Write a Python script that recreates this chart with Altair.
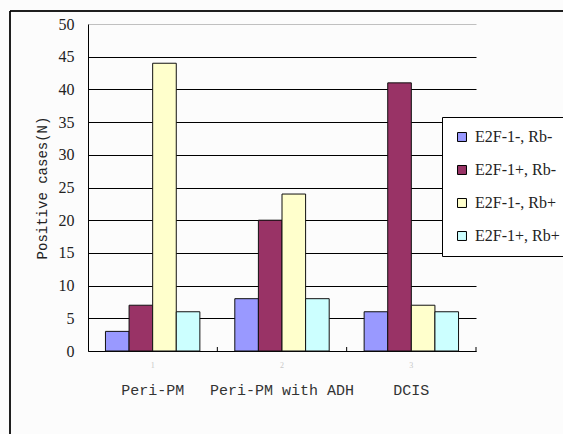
import altair as alt
import pandas as pd

# Groups along the x axis and the four E2F-1 / Rb expression patterns
categories = ["Peri-PM", "Peri-PM with ADH", "DCIS"]
tick_labels = ["1", "2", "3"]
series = ["E2F-1-, Rb-", "E2F-1+, Rb-", "E2F-1-, Rb+", "E2F-1+, Rb+"]
colors = ["#9999FF", "#993366", "#FFFFCC", "#CCFFFF"]

# Positive cases per group, one list per pattern
e2f_neg_rb_neg = [3, 8, 6]
e2f_pos_rb_neg = [7, 20, 41]
e2f_neg_rb_pos = [44, 24, 7]
e2f_pos_rb_pos = [6, 8, 6]

values = [e2f_neg_rb_neg, e2f_pos_rb_neg, e2f_neg_rb_pos, e2f_pos_rb_pos]
rows = []
for s, vals in zip(series, values):
    for c, v in zip(categories, vals):
        rows.append({"group": c, "pattern": s, "cases": v})
df = pd.DataFrame(rows)
groups = pd.DataFrame({"group": categories})

W, H = 388, 327
MONO = "Liberation Mono"
SERIF = "Liberation Serif"

label_map = "{" + ", ".join(f"'{c}': '{t}'" for c, t in zip(categories, tick_labels)) + "}"
x_scale = alt.Scale(domain=categories, paddingInner=0, paddingOuter=0)

bars = alt.Chart(df).mark_bar(stroke="#111111", strokeWidth=1).encode(
    x=alt.X(
        "group:N",
        scale=x_scale,
        sort=categories,
        axis=alt.Axis(
            title=None,
            labelAngle=0,
            labelExpr=f"{label_map}[datum.value]",
            labelColor="#c8c8c8",
            labelFont=SERIF,
            labelFontSize=8,
            labelPadding=10,
            ticks=False,
            domainColor="black",
            domainWidth=1,
            grid=False,
        ),
    ),
    xOffset=alt.XOffset(
        "pattern:N",
        sort=series,
        scale=alt.Scale(domain=series, paddingInner=0, paddingOuter=0.74),
    ),
    y=alt.Y(
        "cases:Q",
        scale=alt.Scale(domain=[0, 50], nice=False),
        axis=alt.Axis(
            title="Positive cases(N)",
            titleFont=MONO,
            titleFontSize=14,
            titleFontWeight="normal",
            titleColor="#222222",
            titlePadding=9,
            values=list(range(0, 51, 5)),
            labelFont=SERIF,
            labelFontSize=16,
            labelColor="#222222",
            labelPadding=14,
            ticks=False,
            domainColor="black",
            grid=True,
            gridColor={"condition": {"test": "datum.value == 50", "value": "#c0c0c0"}, "value": "black"},
            gridWidth=1,
        ),
    ),
    color=alt.Color(
        "pattern:N",
        sort=series,
        scale=alt.Scale(domain=series, range=colors),
        legend=alt.Legend(
            title=None,
            orient="none",
            legendX=354,
            legendY=93,
            symbolType="square",
            symbolSize=80,
            symbolStrokeColor="black",
            symbolStrokeWidth=1,
            labelFont=SERIF,
            labelFontSize=16,
            labelColor="#222222",
            labelOffset=5,
            rowPadding=17,
            padding=12,
            strokeColor="black",
            fillColor="white",
        ),
    ),
)

# Small upward tick marks on the category boundaries
ticks = alt.Chart(groups).mark_rule(color="black", strokeWidth=1).encode(
    x=alt.X("group:N", scale=x_scale, sort=categories, bandPosition=1),
    y=alt.value(H),
    y2=alt.value(H - 4),
)

# Group names beneath the axis
names = alt.Chart(groups).mark_text(
    font=MONO, fontSize=15, color="#333333", baseline="middle"
).encode(
    x=alt.X("group:N", scale=x_scale, sort=categories),
    y=alt.value(H + 39),
    text="group:N",
)

# Outer frame around the figure
frame = alt.Chart(groups).mark_rect(fill=None, stroke="black", strokeWidth=1).encode(
    x=alt.value(-78),
    x2=alt.value(1000),
    y=alt.value(-13),
    y2=alt.value(1000),
)

chart = alt.layer(frame, bars, ticks, names).properties(
    width=W,
    height=H,
    autosize=alt.AutoSizeParams(type="none"),
    padding={"left": 88, "top": 24, "right": 87, "bottom": 83},
    background="#fcfcfc",
).configure_view(stroke=None)

chart.save("out.html", embed_options={"renderer": "svg", "actions": False})
